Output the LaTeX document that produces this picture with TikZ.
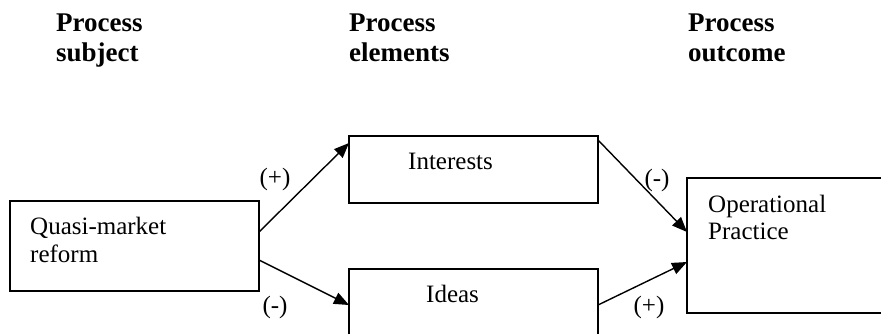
\documentclass[tikz,border=0pt]{standalone}
\usepackage{fontspec}
\setmainfont{Liberation Serif}
\usetikzlibrary{arrows.meta}
\begin{document}
\begin{tikzpicture}[x=1pt,y=-1pt,
  box/.style={draw=black,line width=1.4pt,minimum width=#1,inner sep=0pt,outer sep=0pt},
  body/.style={inner sep=0pt,anchor=base west,font=\fontsize{25}{28}\selectfont},
  head/.style={inner sep=0pt,anchor=base west,font=\fontsize{27}{30}\selectfont\bfseries},
  sign/.style={inner sep=0pt,font=\fontsize{25}{28}\selectfont},
  conn/.style={line width=1.4pt,-{Triangle[length=15pt,width=12pt]}}]
\useasboundingbox (0,0) rectangle (881,333);
\fill[white] (0,0) rectangle (881,333);
\begin{scope}
\clip (0,0) rectangle (881,333);
% headers
\node[head] (h1a) at (56,31) {Process};
\node[head] (h1b) at (56,61) {subject};
\node[head] (h2a) at (349,31) {Process};
\node[head] (h2b) at (349,61) {elements};
\node[head] (h3a) at (688,31) {Process};
\node[head] (h3b) at (688,61) {outcome};
% boxes
\node[box=249pt,minimum height=90pt] (quasi) at (134.5,246) {};
\node[box=249pt,minimum height=67pt] (interests) at (473.5,169.5) {};
\node[box=249pt,minimum height=91pt] (ideas) at (473.5,314.5) {};
\node[box=213pt,minimum height=135pt] (oper) at (793.5,245.5) {};
% box texts
\node[body] (t1a) at (30,234) {Quasi-market};
\node[body] (t1b) at (30,262) {reform};
\node[body] (t2) at (408,169) {Interests};
\node[body] (t3) at (426,302) {Ideas};
\node[body] (t4a) at (708,212) {Operational};
\node[body] (t4b) at (708,239) {Practice};
% connectors
\draw[conn] ([yshift=14pt]quasi.east) -- ([yshift=-7pt]interests.north west);
\draw[conn] ([yshift=-14pt]quasi.east) -- ([yshift=-36pt]ideas.north west);
\draw[conn] ([yshift=-4pt]interests.north east) -- ([yshift=-54pt]oper.north west);
\draw[conn] ([yshift=-36pt]ideas.north east) -- ([yshift=-84pt]oper.north west);
% signs
\node[sign] (s1) at (275,179) {(+)};
\node[sign] (s2) at (275,307) {(-)};
\node[sign] (s3) at (657,180) {(-)};
\node[sign] (s4) at (649,307) {(+)};
\end{scope}
\end{tikzpicture}
\end{document}
